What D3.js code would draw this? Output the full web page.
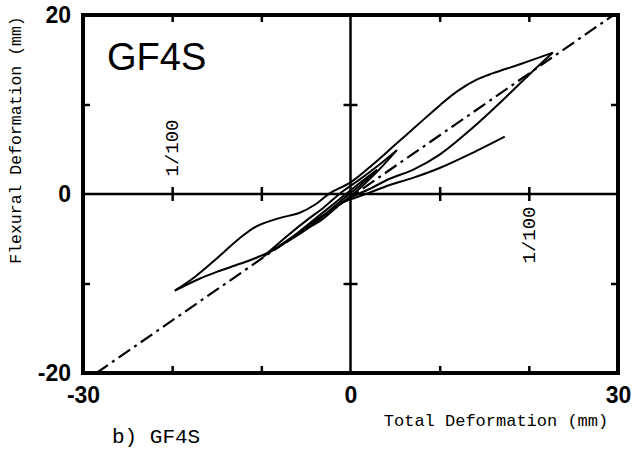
<!DOCTYPE html>
<html>
<head>
<meta charset="utf-8">
<script src="https://cdn.jsdelivr.net/npm/d3@7"></script>
<style>
  body { margin: 0; background: #fff; }
  svg { display: block; }
</style>
</head>
<body>
<script>
// tick values
var xLabelTicks = [-30, 0, 30];
var yLabelTicks = [-20, 0, 20];
var xMinorTicks = [-20, -10, 10, 20];
var yMinorTicks = [-10, 10];

// envelope line (dash-dot)
var refLine = [[-28.5, -20], [29.5, 20]];

// main cycle, loading branch (negative peak -> positive peak)
var mainUpper = [[-19.7, -10.8], [-17.5, -9.3], [-15, -7.2], [-12.5, -5.0], [-10.5, -3.6],
  [-8, -2.7], [-5.7, -2.1], [-4, -1.2], [-2.3, 0.1], [0, 1.3], [2.5, 3.3], [5, 5.5],
  [7.5, 7.7], [10, 9.9], [12, 11.5], [14.2, 12.8], [16, 13.5], [19, 14.5], [22.7, 15.8]];

// main cycle, unloading branch (positive peak -> negative peak)
var mainLower = [[22.7, 15.8], [20, 13.3], [17.5, 10.9], [13.7, 7.4], [10, 4.4], [7, 2.7],
  [4.4, 1.7], [2, 0.5], [0, -0.4], [-2, -1.7], [-4, -3.0], [-6, -4.5], [-8, -5.9],
  [-10.5, -7.1], [-12.4, -7.8], [-15, -8.7], [-17, -9.5], [-19.7, -10.8]];

// smaller cycle (about 10 mm)
var innerUp = [[-9.8, -7.0], [-7, -4.6], [-5, -3.0], [-3, -1.5], [-1, 0.2], [1, 1.6], [3, 3.1], [5.2, 4.9]];
var innerDown = [[5.2, 4.9], [3, 2.5], [1, 0.6], [-1, -1.0], [-3.4, -3.0], [-5.9, -4.4], [-8, -5.8], [-9.8, -7.0]];

// smallest cycle (about 7 mm)
var smallUp = [[-7.2, -5.4], [-5, -3.6], [-3, -2.0], [-1, -0.4], [1, 1.2], [3, 2.7]];
var smallDown = [[3, 2.7], [1, 0.9], [-1, -0.7], [-3, -2.4], [-5, -4.0], [-7.2, -5.4]];

// last loading
var lastLoad = [[-1, -1.0], [0, -0.6], [2, 0.1], [4.4, 1.0], [7, 1.8], [10, 2.9], [13.7, 4.6], [17.3, 6.4]];

var curves = [mainUpper, mainLower, innerUp, innerDown, smallUp, smallDown, lastLoad];

var W = 640, H = 450;
var margin = {top: 15, right: 22, bottom: 77, left: 83};

var x = d3.scaleLinear().domain([-30, 30]).range([margin.left, W - margin.right]);
var y = d3.scaleLinear().domain([-20, 20]).range([H - margin.bottom, margin.top]);

var svg = d3.select("body").append("svg")
    .attr("width", W)
    .attr("height", H);

var line = d3.line()
    .x(function(d) { return x(d[0]); })
    .y(function(d) { return y(d[1]); })
    .curve(d3.curveCatmullRom.alpha(0.5));

// centre axes
svg.append("line")
    .attr("x1", x(-30)).attr("x2", x(30))
    .attr("y1", y(0)).attr("y2", y(0))
    .attr("stroke", "#000").attr("stroke-width", 2.5);
svg.append("line")
    .attr("x1", x(0)).attr("x2", x(0))
    .attr("y1", y(-20)).attr("y2", y(20))
    .attr("stroke", "#000").attr("stroke-width", 2.5);

// crossing ticks on the centre axes
svg.append("g")
    .attr("transform", "translate(0," + (y(0) - 7) + ")")
    .call(d3.axisBottom(x).tickValues(xMinorTicks).tickSize(14).tickFormat(""))
    .call(function(g) { g.select(".domain").remove(); })
    .selectAll("line").attr("stroke-width", 2.5);
svg.append("g")
    .attr("transform", "translate(" + (x(0) + 7) + ",0)")
    .call(d3.axisLeft(y).tickValues(yMinorTicks).tickSize(14).tickFormat(""))
    .call(function(g) { g.select(".domain").remove(); })
    .selectAll("line").attr("stroke-width", 2.5);

// inward ticks on the frame
function frameTicks(axis, tx, ty) {
  svg.append("g")
      .attr("transform", "translate(" + tx + "," + ty + ")")
      .call(axis.tickSize(-7).tickFormat(""))
      .call(function(g) { g.select(".domain").remove(); })
      .selectAll("line").attr("stroke-width", 2.5);
}
frameTicks(d3.axisLeft(y).tickValues(yMinorTicks), x(-30), 0);
frameTicks(d3.axisRight(y).tickValues(yMinorTicks), x(30), 0);
frameTicks(d3.axisBottom(x).tickValues(xMinorTicks), 0, y(-20));
frameTicks(d3.axisTop(x).tickValues(xMinorTicks), 0, y(20));

// dash-dot reference line
svg.append("path")
    .attr("d", d3.line().x(function(d) { return x(d[0]); }).y(function(d) { return y(d[1]); })(refLine))
    .attr("fill", "none")
    .attr("stroke", "#000")
    .attr("stroke-width", 2.2)
    .attr("stroke-dasharray", "14,5,3,5");

// hysteresis curves
svg.selectAll(".curve")
    .data(curves)
  .enter().append("path")
    .attr("class", "curve")
    .attr("d", line)
    .attr("fill", "none")
    .attr("stroke", "#000")
    .attr("stroke-width", 2)
    .attr("stroke-linejoin", "round");

// frame
svg.append("rect")
    .attr("x", x(-30)).attr("y", y(20))
    .attr("width", x(30) - x(-30))
    .attr("height", y(-20) - y(20))
    .attr("fill", "none")
    .attr("stroke", "#000")
    .attr("stroke-width", 4);

// tick labels
svg.append("g")
    .attr("transform", "translate(0," + (y(-20) + 10) + ")")
    .call(d3.axisBottom(x).tickValues(xLabelTicks).tickSize(0).tickPadding(4))
    .call(function(g) { g.select(".domain").remove(); })
    .selectAll("text")
    .attr("font-family", "Liberation Sans, Arial, sans-serif")
    .attr("font-size", 23)
    .attr("font-weight", "bold")
    .attr("fill", "#000")
    .text(function(d) { return d < 0 ? "-" + Math.abs(d) : d; });

svg.append("g")
    .attr("transform", "translate(" + (x(-30) - 12) + ",0)")
    .call(d3.axisLeft(y).tickValues(yLabelTicks).tickSize(0).tickPadding(0))
    .call(function(g) { g.select(".domain").remove(); })
    .selectAll("text")
    .attr("font-family", "Liberation Sans, Arial, sans-serif")
    .attr("font-size", 23)
    .attr("font-weight", "bold")
    .attr("fill", "#000")
    .text(function(d) { return d < 0 ? "-" + Math.abs(d) : d; });

var mono = "Liberation Mono, DejaVu Sans Mono, monospace";

// axis titles
svg.append("text")
    .attr("x", 496).attr("y", 426)
    .attr("text-anchor", "middle")
    .attr("font-family", mono)
    .attr("font-size", 17)
    .text("Total Deformation (mm)");

svg.append("text")
    .attr("transform", "translate(21,140) rotate(-90)")
    .attr("text-anchor", "middle")
    .attr("font-family", mono)
    .attr("font-size", 16.5)
    .text("Flexural Deformation (mm)");

// specimen name
svg.append("text")
    .attr("x", 107).attr("y", 70)
    .attr("font-family", "Liberation Sans, Arial, sans-serif")
    .attr("font-size", 38)
    .text("GF4S");

svg.append("text")
    .attr("x", 112).attr("y", 443)
    .attr("font-family", mono)
    .attr("font-size", 21)
    .text("b) GF4S");

// drift angle marks
svg.append("text")
    .attr("transform", "translate(" + (x(-20) + 6) + ",148) rotate(-90)")
    .attr("text-anchor", "middle")
    .attr("font-family", mono)
    .attr("font-size", 19)
    .text("1/100");

svg.append("text")
    .attr("transform", "translate(" + (x(20) + 6) + ",235) rotate(-90)")
    .attr("text-anchor", "middle")
    .attr("font-family", mono)
    .attr("font-size", 19)
    .text("1/100");
</script>
</body>
</html>
